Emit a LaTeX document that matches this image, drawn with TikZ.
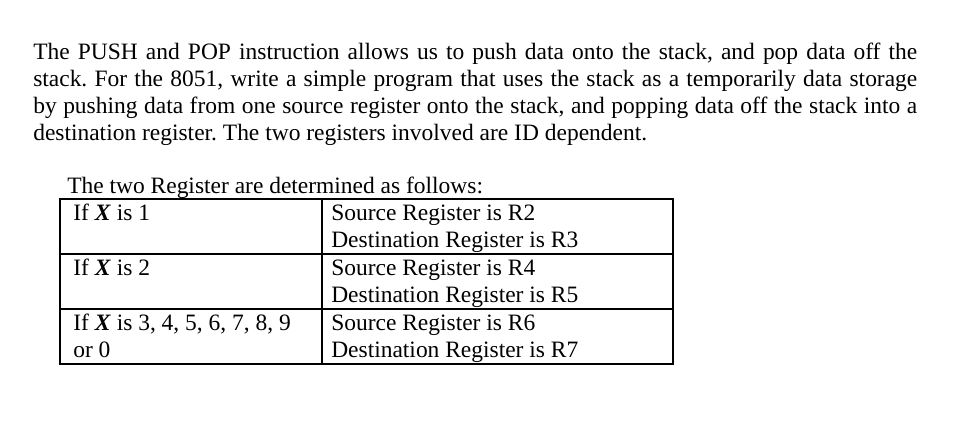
\documentclass[tikz,border=0pt]{standalone}
\usepackage{fontspec}
\setmainfont{Liberation Serif}
\usetikzlibrary{positioning}
\begin{document}
\frenchspacing
\begin{tikzpicture}[x=0.75pt,y=-0.75pt,
  paraline/.style={anchor=base west, inner sep=0pt, font=\fontsize{17.6}{20}\selectfont},
  cell/.style={anchor=base west, inner sep=0pt, font=\fontsize{17.6}{20}\selectfont}]
  \useasboundingbox (0,0) rectangle (973,423);
  % Paragraph
  \node[paraline] (p1) at (33,60) {\makebox[663pt][s]{The PUSH and POP instruction allows us to push data onto the stack, and pop data off the}};
  \node[paraline] (p2) at (33,87) {\makebox[663pt][s]{stack. For the 8051, write a simple program that uses the stack as a temporarily data storage}};
  \node[paraline] (p3) at (33,114) {\makebox[663pt][s]{by pushing data from one source register onto the stack, and popping data off the stack into a}};
  \node[paraline] (p4) at (33,141) {destination register. The two registers involved are ID dependent.};
  % Table
  \node[cell] (cap) at (67,194) {The two Register are determined as follows:};
  \draw[line width=0.9pt] (60,199) rectangle (673,364);
  \draw[line width=0.9pt] (322,199) -- (322,364);
  \draw[line width=0.9pt] (60,254) -- (673,254);
  \draw[line width=0.9pt] (60,309) -- (673,309);
  \node[cell] (x1) at (73,221) {If \textbf{\textit{X}} is 1};
  \node[cell] (s1) at (331,221) {Source Register is R2};
  \node[cell] (d1) at (331,248) {Destination Register is R3};
  \node[cell] (x2) at (73,276) {If \textbf{\textit{X}} is 2};
  \node[cell] (s2) at (331,276) {Source Register is R4};
  \node[cell] (d2) at (331,303) {Destination Register is R5};
  \node[cell] (x3) at (73,331) {If \textbf{\textit{X}} is 3, 4, 5, 6, 7, 8, 9};
  \node[cell] (x3b) at (73,358) {or 0};
  \node[cell] (s3) at (331,331) {Source Register is R6};
  \node[cell] (d3) at (331,358) {Destination Register is R7};
\end{tikzpicture}
\end{document}
